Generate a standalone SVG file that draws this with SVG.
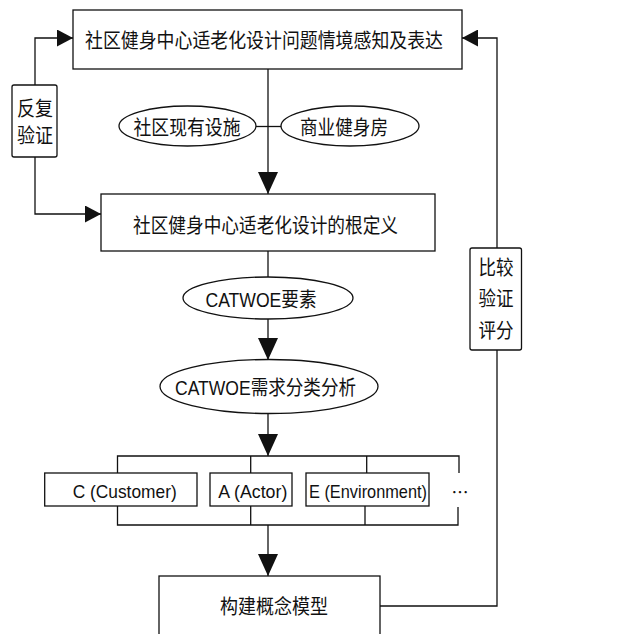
<svg xmlns="http://www.w3.org/2000/svg" width="624" height="634" viewBox="0 0 624 634">
<style>
text{font-family:"Liberation Sans","Noto Sans CJK SC",sans-serif;font-size:20px;fill:#111;text-anchor:middle}
.lat{font-size:19px}
.box{fill:#fff;stroke:#111;stroke-width:1.3}
.ln{fill:none;stroke:#111;stroke-width:1.3}
</style>
<defs>
<marker id="aV" markerUnits="userSpaceOnUse" markerWidth="22" markerHeight="20" refX="22" refY="10" orient="auto"><path d="M0,0 L22,10 L0,20 z" fill="#111"/></marker>
<marker id="aH" markerUnits="userSpaceOnUse" markerWidth="16" markerHeight="17" refX="16" refY="8.5" orient="auto"><path d="M0,0 L16,8.5 L0,17 z" fill="#111"/></marker>
</defs>
<rect width="624" height="634" fill="#fff"/>
<g id="connectors">
<path class="ln" d="M268,69 V194" marker-end="url(#aV)"/>
<path class="ln" d="M256,126.5 H281"/>
<path class="ln" d="M268,251 V319"/>
<path class="ln" d="M268,319 V360" marker-end="url(#aV)"/>
<path class="ln" d="M268,414 V456" marker-end="url(#aV)"/>
<path class="ln" d="M117.5,473 V456 H459 V473 M250.7,456 V473 M366.7,456 V473"/>
<path class="ln" d="M117.5,506 V525 H458 V507 M250.7,506 V525 M365,506 V525"/>
<path class="ln" d="M268,525 V576" marker-end="url(#aV)"/>
<path class="ln" d="M35,85 V38 H73" marker-end="url(#aH)"/>
<path class="ln" d="M35,157 V214 H101" marker-end="url(#aH)"/>
<path class="ln" d="M380,606 H497 V38 H462" marker-end="url(#aH)"/>
</g>
<g id="n1"><rect class="box" x="73" y="10" width="389" height="59"/><text x="264" y="47.5" textLength="358" lengthAdjust="spacingAndGlyphs">社区健身中心适老化设计问题情境感知及表达</text></g>
<g id="n2"><rect class="box" x="101" y="194" width="334" height="57"/><text x="265.5" y="232.5" textLength="265" lengthAdjust="spacingAndGlyphs">社区健身中心适老化设计的根定义</text></g>
<g id="e1"><ellipse class="box" cx="187.5" cy="126" rx="68.5" ry="20"/><text x="187" y="135" textLength="107" lengthAdjust="spacingAndGlyphs">社区现有设施</text></g>
<g id="e2"><ellipse class="box" cx="350" cy="126" rx="69" ry="20"/><text x="344" y="135" textLength="88" lengthAdjust="spacingAndGlyphs">商业健身房</text></g>
<g id="e3"><ellipse class="box" cx="268" cy="298" rx="85" ry="21"/><text x="261" y="307" textLength="111" lengthAdjust="spacingAndGlyphs">CATWOE要素</text></g>
<g id="e4"><ellipse class="box" cx="269" cy="386.5" rx="109" ry="27"/><text x="265.5" y="395" textLength="181" lengthAdjust="spacingAndGlyphs">CATWOE需求分类分析</text></g>
<g id="c"><rect class="box" x="44.7" y="473" width="152.3" height="33"/><text class="lat" x="124.7" y="497.5" textLength="104" lengthAdjust="spacingAndGlyphs">C (Customer)</text></g>
<g id="a"><rect class="box" x="210" y="473" width="82" height="33"/><text class="lat" x="252.8" y="497.5" textLength="69" lengthAdjust="spacingAndGlyphs">A (Actor)</text></g>
<g id="e"><rect class="box" x="306" y="473" width="123" height="33"/><text class="lat" x="368" y="497.5" textLength="118" lengthAdjust="spacingAndGlyphs">E (Environment)</text></g>
<g id="more"><text x="460" y="499" style="font-family:'Noto Sans CJK SC',sans-serif;font-size:17px">…</text></g>
<g id="n3"><rect class="box" x="159" y="576" width="221" height="70"/><text x="274" y="614" textLength="108" lengthAdjust="spacingAndGlyphs">构建概念模型</text></g>
<g id="l1"><rect class="box" x="12" y="85" width="45" height="72" rx="2"/><text x="35" y="115.5" textLength="36" lengthAdjust="spacingAndGlyphs">反复</text><text x="35" y="142.5" textLength="36" lengthAdjust="spacingAndGlyphs">验证</text></g>
<g id="l2"><rect class="box" x="470" y="248" width="51.5" height="102" rx="2"/><text x="496" y="275" textLength="35" lengthAdjust="spacingAndGlyphs">比较</text><text x="496" y="305.5" textLength="35" lengthAdjust="spacingAndGlyphs">验证</text><text x="496" y="337.5" textLength="35" lengthAdjust="spacingAndGlyphs">评分</text></g>
</svg>
